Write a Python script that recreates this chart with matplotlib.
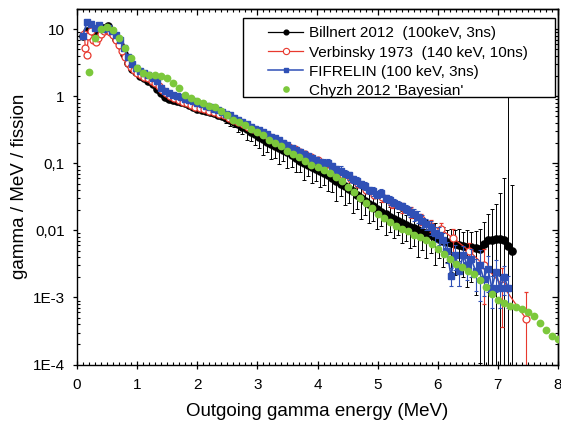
import numpy as np
import matplotlib
matplotlib.use("Agg")
import matplotlib.pyplot as plt
from matplotlib.lines import Line2D
from matplotlib.patches import Rectangle
from matplotlib.ticker import (FixedLocator, LogLocator, MultipleLocator,
                               NullFormatter)

plt.rcParams['font.family'] = ['Liberation Sans', 'DejaVu Sans']

RED = '#e8392e'
BLUE = '#2f50b6'
GREEN = '#7cc83c'

# Billnert 2012 (100 keV, 3 ns): bin centres in MeV, gamma/MeV/fission
BILLNERT_E = 0.10 + 0.068 * np.arange(106)
BILLNERT = [
    8.0, 9.5, 9.0, 8.3, 8.5, 10.5, 11.0, 9.0, 7.2, 5.8,
    4.3, 3.1, 2.55, 2.3, 2.0, 1.85, 1.68, 1.5, 1.3, 1.1,
    0.98, 0.92, 0.89, 0.86, 0.82, 0.78, 0.73, 0.69, 0.65, 0.62,
    0.60, 0.58, 0.56, 0.53, 0.50, 0.47, 0.45, 0.42, 0.39, 0.35,
    0.32, 0.29, 0.27, 0.25, 0.23, 0.21, 0.196, 0.182, 0.172, 0.158,
    0.145, 0.133, 0.122, 0.109, 0.101, 0.095, 0.089, 0.083, 0.077, 0.071,
    0.066, 0.060, 0.055, 0.050, 0.046, 0.042, 0.038, 0.034, 0.030, 0.027,
    0.025, 0.023, 0.021, 0.019, 0.0175, 0.016, 0.0148, 0.0138, 0.0128, 0.0120,
    0.0113, 0.0107, 0.0101, 0.0096, 0.0091, 0.0085, 0.0079, 0.0074, 0.0070, 0.0067,
    0.0064, 0.0062, 0.0060, 0.0058, 0.0057, 0.0056, 0.0055, 0.0053, 0.0062, 0.0071,
    0.0073, 0.0075, 0.0074, 0.0072, 0.0059, 0.0050,
]
# relative uncertainty of each Billnert point
BILLNERT_REL = [0.03] * 35 + [
    0.15, 0.20, 0.18, 0.25, 0.22, 0.30, 0.25, 0.30,
    0.32, 0.42, 0.30, 0.40, 0.33, 0.44, 0.32, 0.42, 0.34,
    0.40, 0.32, 0.45, 0.33, 0.42, 0.35, 0.43, 0.32, 0.42,
    0.38, 0.50, 0.36, 0.48, 0.40, 0.52, 0.38, 0.50, 0.37, 0.49,
    0.40, 0.50, 0.38, 0.52, 0.40, 0.48, 0.38, 0.50, 0.42, 0.52,
    0.45, 0.60, 0.47, 0.58, 0.45, 0.62, 0.48, 0.60, 0.50, 0.62,
    0.65, 0.75, 0.65, 0.75, 0.70, 0.80,
    0.98, 1.15, 1.5, 1.9, 2.3, 3.9, 7.4, 900.0, 8.4,
]

# Verbinsky 1973 (140 keV, 10 ns)
VERBINSKY_E = [
    0.12, 0.14, 0.16, 0.19, 0.23, 0.27, 0.31, 0.35, 0.40, 0.45,
    0.50, 0.55, 0.60, 0.65, 0.70, 0.75, 0.80, 0.85, 0.90, 0.95,
    1.00, 1.06, 1.12, 1.18, 1.24, 1.30, 1.36, 1.42, 1.48, 1.55,
    1.62, 1.69, 1.76, 1.83, 1.90, 1.97, 2.04, 2.12, 2.20, 2.28,
    2.36, 2.44, 2.52, 2.60, 2.68, 2.76, 2.84, 2.92, 3.00, 3.08,
    3.17, 3.26, 3.35, 3.44, 3.53, 3.62, 3.71, 3.80, 3.90, 4.00,
    4.10, 4.21, 4.32, 4.43, 4.55, 4.67, 4.80, 4.94, 5.08, 5.24,
    5.41, 5.55, 5.72, 5.88, 6.05, 6.26, 6.52, 6.77, 7.07, 7.47,
]
VERBINSKY = [
    8.5, 5.2, 4.1, 8.0, 9.5, 7.0, 6.5, 7.5, 8.5, 9.5,
    9.8, 9.0, 8.2, 7.0, 5.9, 4.7, 3.8, 3.1, 2.7, 2.45,
    2.25, 2.1, 1.95, 1.85, 1.7, 1.55, 1.4, 1.25, 1.12, 1.02,
    0.95, 0.88, 0.82, 0.78, 0.74, 0.70, 0.67, 0.64, 0.61, 0.58,
    0.55, 0.52, 0.48, 0.45, 0.42, 0.38, 0.35, 0.32, 0.30, 0.28,
    0.255, 0.235, 0.215, 0.195, 0.178, 0.162, 0.148, 0.136, 0.124, 0.112,
    0.094, 0.080, 0.072, 0.066, 0.058, 0.050, 0.040, 0.034, 0.031, 0.025,
    0.022, 0.0187, 0.0148, 0.0117, 0.0104, 0.0076, 0.0050, 0.0030, 0.00155, 0.00048,
]
VERBINSKY_REL = [0.03] * 48 + [
    0.07, 0.07, 0.07, 0.07, 0.07, 0.07, 0.07, 0.07, 0.07, 0.07, 0.07, 0.07,
    0.10, 0.10, 0.10, 0.10, 0.10, 0.10, 0.10, 0.10,
    0.15, 0.15, 0.18, 0.18, 0.20, 0.20, 0.22,
    0.40, 0.30, 0.73, 0.77, 1.5,
]

# FIFRELIN calculation (100 keV, 3 ns)
FIFRELIN_E = 0.10 + 0.068 * np.arange(105)
FIFRELIN = [
    8.0, 13.0, 12.0, 10.5, 11.5, 10.0, 10.5, 9.5, 8.2, 6.8,
    5.2, 3.8, 3.0, 2.6, 2.35, 2.2, 2.05, 1.9, 1.7, 1.35,
    1.2, 1.1, 1.04, 1.0, 0.96, 0.92, 0.88, 0.84, 0.80, 0.76,
    0.72, 0.68, 0.65, 0.62, 0.58, 0.55, 0.52, 0.48, 0.45, 0.42,
    0.38, 0.35, 0.33, 0.31, 0.29, 0.27, 0.25, 0.235, 0.22, 0.20,
    0.185, 0.172, 0.16, 0.148, 0.14, 0.13, 0.122, 0.112, 0.104, 0.10,
    0.102, 0.09, 0.082, 0.078, 0.070, 0.066, 0.058, 0.054, 0.049, 0.046,
    0.040, 0.038, 0.034, 0.036, 0.030, 0.028, 0.026, 0.024, 0.023, 0.021,
    0.019, 0.0175, 0.016, 0.0140, 0.0125, 0.0112, 0.0090, 0.0085, 0.0071, 0.0050,
    0.0021, 0.0043, 0.0025, 0.0043, 0.0030, 0.0037, 0.0025, 0.0030, 0.0019, 0.0027,
    0.0014, 0.0024, 0.0014, 0.0020, 0.0014,
]
FIFRELIN_REL = [0.03] * 36 + [
    0.08, 0.10, 0.08, 0.09, 0.08, 0.10, 0.08, 0.09, 0.08, 0.10, 0.08,
    0.09, 0.08, 0.10, 0.08, 0.09, 0.08, 0.10, 0.08, 0.09, 0.08, 0.10,
    0.12, 0.15, 0.12, 0.14, 0.12, 0.15, 0.12, 0.14, 0.12, 0.15, 0.12,
    0.14, 0.12, 0.15, 0.12, 0.14, 0.12, 0.15, 0.12, 0.14, 0.12, 0.15,
    0.18, 0.20, 0.20, 0.22, 0.20, 0.25, 0.25, 0.30, 0.30,
    0.35, 0.30, 0.40, 0.40, 0.35, 0.40, 0.45, 0.50,
    0.70, 0.45, 0.55, 0.50, 0.50, 0.50, 0.45, 0.50,
]

# Chyzh 2012 'Bayesian' unfolding
CHYZH_E = np.arange(0.2, 8.05, 0.1)
CHYZH = [
    2.3, 7.3, 10.2, 10.7, 9.7, 7.5, 5.25, 3.7, 2.6, 2.25,
    2.1, 2.05, 2.0, 1.86, 1.56, 1.32, 1.06, 0.93, 0.84, 0.78,
    0.72, 0.69, 0.60, 0.53, 0.45, 0.41, 0.37, 0.33, 0.29, 0.26,
    0.22, 0.20, 0.18, 0.155, 0.136, 0.123, 0.11, 0.096, 0.089, 0.080,
    0.072, 0.063, 0.055, 0.045, 0.037, 0.030, 0.0256, 0.0214, 0.0178, 0.0152,
    0.0133, 0.0117, 0.0104, 0.0097, 0.0086, 0.0079, 0.0072, 0.0063, 0.0053, 0.0044,
    0.0037, 0.0032, 0.0028, 0.0025, 0.0022, 0.0018, 0.00141, 0.00111, 0.00093, 0.00082,
    0.00075, 0.00072, 0.00067, 0.0006, 0.00052, 0.00042, 0.00033, 0.00027, 0.00024,
]

LEGEND_LABELS = [
    "Billnert 2012  (100keV, 3ns)",
    "Verbinsky 1973  (140 keV, 10ns)",
    "FIFRELIN (100 keV, 3ns)",
    "Chyzh 2012 'Bayesian'",
]

Y_TICKS = [1e-4, 1e-3, 1e-2, 1e-1, 1, 10]
Y_TICK_LABELS = ["1E-4", "1E-3", "0,01", "0,1", "1", "10"]


def draw_spectra(ax):
    """Draws the four spectra, each with its uncertainties."""
    bill = np.array(BILLNERT)
    ax.errorbar(BILLNERT_E, bill, yerr=bill * np.array(BILLNERT_REL),
                fmt='-o', color='black', ms=5.2, lw=1.0,
                elinewidth=0.7, capsize=1.4, capthick=0.7, zorder=2)

    verb = np.array(VERBINSKY)
    ax.errorbar(VERBINSKY_E, verb, yerr=verb * np.array(VERBINSKY_REL),
                fmt='-o', color=RED, mfc='white', mec=RED, ms=5.0, mew=0.9,
                lw=0.9, elinewidth=0.8, capsize=1.6, capthick=0.8, zorder=2.2)

    fif = np.array(FIFRELIN)
    ax.errorbar(FIFRELIN_E, fif, yerr=fif * np.array(FIFRELIN_REL),
                fmt='-s', color=BLUE, ms=3.8, lw=1.2,
                elinewidth=0.8, capsize=1.6, capthick=0.8, zorder=2.4)

    ax.plot(CHYZH_E, CHYZH, 'o', color=GREEN, mec='none', ms=5.6, zorder=2.6)


def style_axes(ax):
    ax.set_yscale('log')
    ax.set_xlim(0, 8)
    ax.set_ylim(1e-4, 20)

    ax.xaxis.set_major_locator(MultipleLocator(1))
    ax.xaxis.set_minor_locator(MultipleLocator(0.1))
    ax.yaxis.set_major_locator(FixedLocator(Y_TICKS))
    ax.set_yticklabels(Y_TICK_LABELS)
    ax.yaxis.set_minor_locator(LogLocator(base=10, subs=np.arange(2, 10), numticks=20))
    ax.yaxis.set_minor_formatter(NullFormatter())

    ax.tick_params(axis='x', which='major', direction='inout', length=6,
                   width=0.9, labelsize=11, pad=7)
    ax.tick_params(axis='y', which='major', direction='out', length=3,
                   width=0.9, labelsize=11, pad=6)
    ax.tick_params(which='minor', direction='in', length=2.2, width=0.8)
    for spine in ax.spines.values():
        spine.set_linewidth(1.0)

    # inward ticks on the top and right frame
    top = ax.secondary_xaxis('top')
    top.xaxis.set_major_locator(MultipleLocator(1))
    top.xaxis.set_minor_locator(MultipleLocator(0.1))
    top.xaxis.set_major_formatter(NullFormatter())
    top.tick_params(which='major', direction='in', length=4.5, width=0.9)
    top.tick_params(which='minor', direction='in', length=2.2, width=0.8)

    right = ax.secondary_yaxis('right')
    right.yaxis.set_major_locator(FixedLocator(Y_TICKS))
    right.yaxis.set_minor_locator(LogLocator(base=10, subs=np.arange(2, 10), numticks=20))
    right.yaxis.set_major_formatter(NullFormatter())
    right.yaxis.set_minor_formatter(NullFormatter())
    right.tick_params(which='major', direction='in', length=4.5, width=0.9)
    right.tick_params(which='minor', direction='in', length=2.2, width=0.8)
    for sec in (top, right):
        for spine in sec.spines.values():
            spine.set_linewidth(1.0)

    ax.set_xlabel("Outgoing gamma energy (MeV)", fontsize=13.5)
    ax.set_ylabel("gamma / MeV / fission", fontsize=13.5)
    ax.xaxis.set_label_coords(0.5, -0.108)
    ax.yaxis.set_label_coords(-0.102, 0.5)


def add_legend(ax):
    handles = [
        Line2D([], [], color='black', marker='o', ms=3.4, lw=0.9),
        Line2D([], [], color=RED, marker='o', mfc='white', ms=4.5, mew=0.8, lw=0.9),
        Line2D([], [], color=BLUE, marker='s', ms=2.6, lw=1.1),
        Line2D([], [], color=GREEN, marker='o', mec='none', ls='none', ms=4.8),
    ]
    ax.add_patch(Rectangle((166 / 481, 267.5 / 355.5), 312 / 481, 79 / 355.5,
                           transform=ax.transAxes, facecolor='white',
                           edgecolor='black', lw=1.0, zorder=4))
    leg = ax.legend(handles, LEGEND_LABELS, loc='upper left',
                    bbox_to_anchor=(191 / 481, 338 / 355.5),
                    frameon=False, borderpad=0, borderaxespad=0,
                    handlelength=2.3, handletextpad=0.4, labelspacing=0.33,
                    fontsize=11, numpoints=1)
    leg.set_zorder(5)


def main():
    fig = plt.figure(figsize=(5.61, 4.28), dpi=100)
    ax = fig.add_axes([77 / 561, 63.5 / 428, 481 / 561, 355.5 / 428])
    draw_spectra(ax)
    style_axes(ax)
    add_legend(ax)
    fig.savefig("out.png", dpi=100)


if __name__ == "__main__":
    main()
